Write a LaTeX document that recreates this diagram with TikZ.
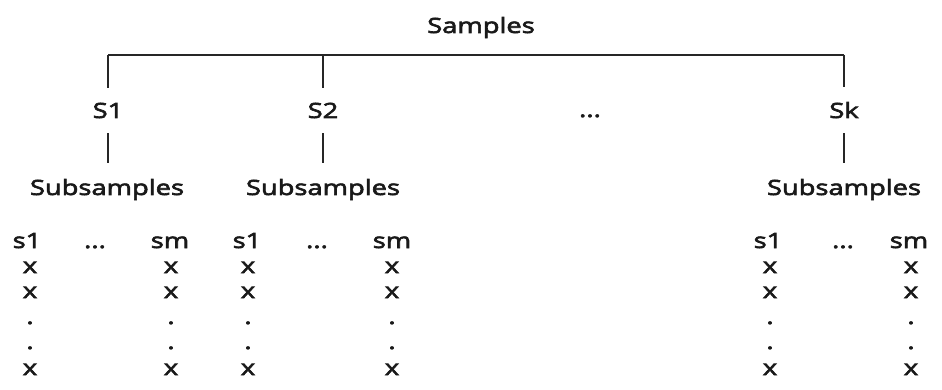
\documentclass[tikz,border=0pt]{standalone}
\usepackage{fontspec}
\setmainfont[FakeStretch=1.3, FakeBold=3]{Open Sans}
\begin{document}
\begin{tikzpicture}[x=1pt,y=-1pt,
  lbl/.style={inner sep=0pt, anchor=base, font=\fontsize{21}{25}\selectfont, text=black!90},
  conn/.style={line width=2.2pt, draw=black!85}]
\useasboundingbox[fill=white] (0,0) rectangle (942,390);
% top label
\node[lbl] (samples) at (481,33) {Samples};
\coordinate (bar) at (0,55);
% samples
\node[lbl] (S1) at (108,118) {S1};
\node[lbl] (S2) at (323,118) {S2};
\node[lbl] (Sd) at (590,117) {...};
\node[lbl] (Sk) at (844,118) {Sk};
% subsamples
\node[lbl] (U1) at (107,195) {Subsamples};
\node[lbl] (U2) at (323,195) {Subsamples};
\node[lbl] (Uk) at (844,195) {Subsamples};
% connectors
\draw[conn] (S1.north |- bar) -- (Sk.north |- bar);
\draw[conn, shorten >=15pt] (S1.north |- bar) -- (S1.north);
\draw[conn, shorten >=15pt] (S2.north |- bar) -- (S2.north);
\draw[conn, shorten >=15pt] (Sk.north |- bar) -- (Sk.north);
\draw[conn, shorten <=15pt, shorten >=16pt] (S1.south) -- (U1.north -| S1.south);
\draw[conn, shorten <=15pt, shorten >=16pt] (S2.south) -- (U2.north -| S2.south);
\draw[conn, shorten <=15pt, shorten >=16pt] (Sk.south) -- (Uk.north -| Sk.south);
% column headers
\foreach \n/\a/\d/\b in {g1/27/95/170, g2/247/317/392, g3/768/843/909}{
  \node[lbl] (\n a) at (\a,248) {s1};
  \node[lbl] (\n d) at (\d,248) {...};
  \node[lbl] (\n b) at (\b,248) {sm};
}
% column entries
\foreach \n/\x in {g1a/30, g1b/171, g2a/248, g2b/392, g3a/770, g3b/911}{
  \node[lbl] (\n x1) at (\x,273) {x};
  \node[lbl] (\n x2) at (\x,298) {x};
  \node[lbl] (\n p1) at (\x,324) {.};
  \node[lbl] (\n p2) at (\x,349) {.};
  \node[lbl] (\n x3) at (\x,375) {x};
}
\end{tikzpicture}
\end{document}
